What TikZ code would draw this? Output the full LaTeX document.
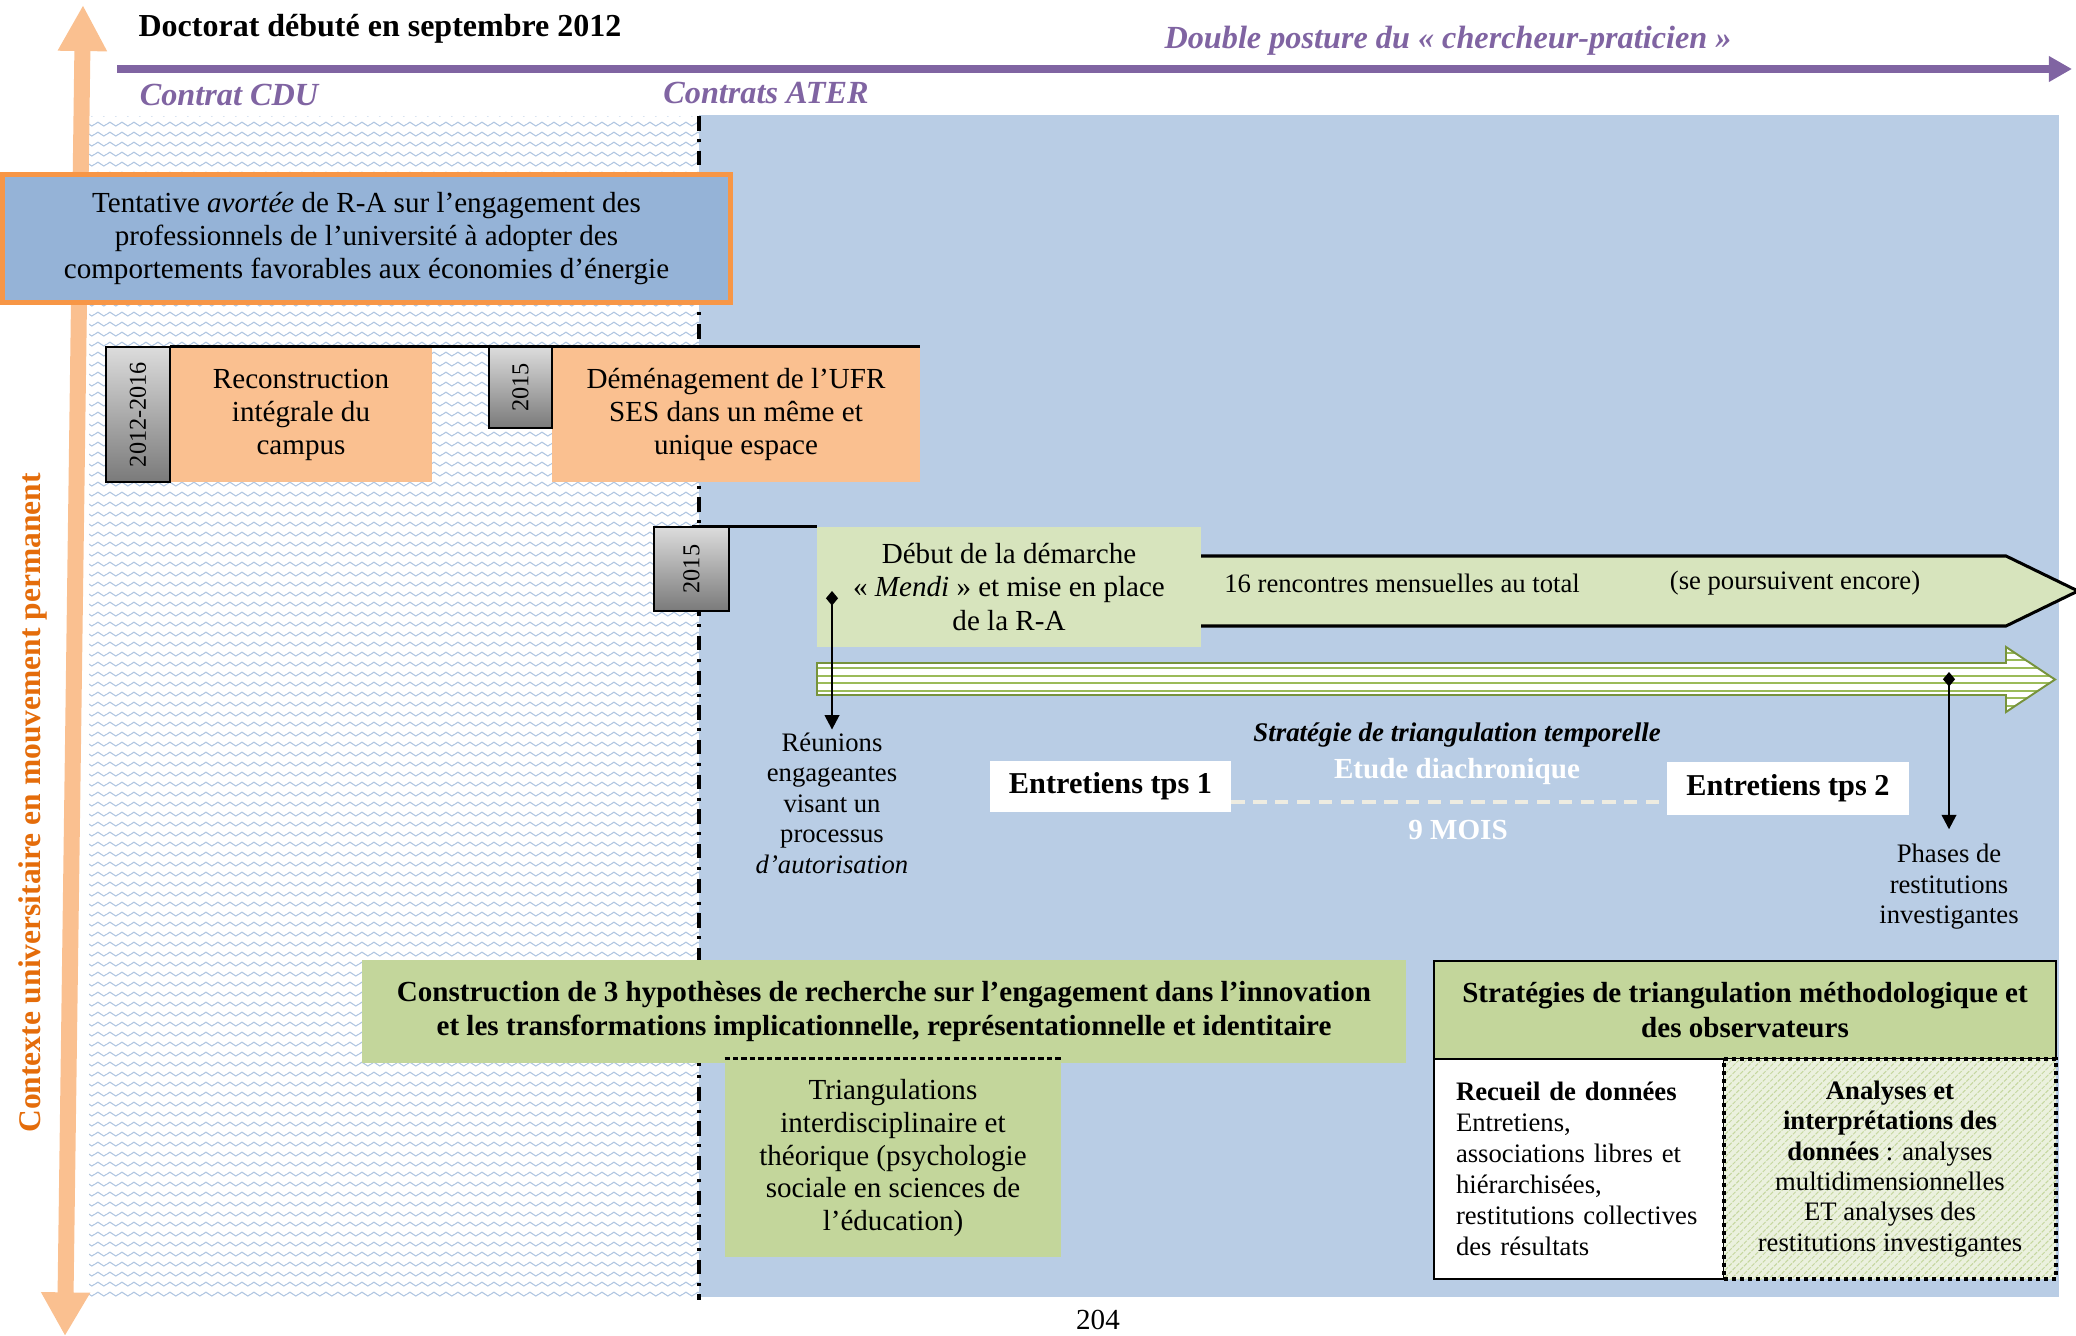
\documentclass[tikz,border=0pt]{standalone}
\usepackage{fontspec}
\setmainfont{Liberation Serif}
\usetikzlibrary{arrows.meta,patterns,patterns.meta}

\definecolor{panelblue}{HTML}{B9CDE5}
\definecolor{waveblue}{HTML}{B0C6E1}
\definecolor{tentblue}{HTML}{95B3D7}
\definecolor{boxorange}{HTML}{FAC090}
\definecolor{lineorange}{HTML}{F79646}
\definecolor{ctxorange}{HTML}{E46C0A}
\definecolor{postpurple}{HTML}{8064A2}
\definecolor{palegreen}{HTML}{D7E4BD}
\definecolor{midgreen}{HTML}{C3D69B}
\definecolor{stripegreen}{HTML}{9BBB59}
\definecolor{darkgreen}{HTML}{77933C}
\definecolor{hatchbg}{HTML}{EBF1DE}
\definecolor{hatchfg}{HTML}{C5D79F}
\definecolor{beige}{HTML}{EEECE1}
\definecolor{yearlight}{HTML}{DCDCDC}
\definecolor{yeardark}{HTML}{7A7A7A}

\newcommand{\fsz}[2]{\fontsize{#1}{#2}\selectfont}

\tikzdeclarepattern{
  name=wavy,
  type=uncolored,
  bounding box={(0pt,0pt) and (4.9pt,4.1pt)},
  tile size={(4.9pt,4.1pt)},
  code={
    \draw[line width=0.45pt] (0pt,1.2pt) -- (1.225pt,2pt) -- (2.45pt,1.2pt) -- (3.675pt,0.4pt) -- (4.9pt,1.2pt);
  }
}

\tikzset{
  sz/.style 2 args={minimum width=#1*0.145mm, minimum height=#2*0.145mm, inner sep=0pt},
  purpletext/.style={font=\bfseries\itshape\fsz{13.3}{15}, text=postpurple},
  orangebox/.style={fill=boxorange, align=center, font=\fsz{12}{13.6}},
  yearbox/.style={draw, line width=1.1pt, rotate=90, top color=yearlight, bottom color=yeardark, font=\fsz{10}{12}},
  greenbox/.style={fill=palegreen, align=center, font=\fsz{12}{14}},
  diamarrow/.style={line width=1pt, {Diamond[length=6pt,width=5pt]}-{Triangle[length=6pt,width=6pt]}},
  smalltext/.style={font=\fsz{11}{12.6}, align=center, inner sep=1pt}
}

\begin{document}
\begin{tikzpicture}[x=0.145mm,y=-0.145mm]
\useasboundingbox (0,0) rectangle (2076,1336);

\fill[panelblue] (699,115) rectangle (2059,1297);
\fill[pattern=wavy, pattern color=waveblue] (89,116) rectangle (699,1297);
\draw[line width=1.3pt, dash pattern=on 6pt off 3.5pt on 1.3pt off 3.5pt] (699,116) -- (699,1300);

\coordinate (ctop) at (83,5);
\coordinate (cbot) at (65,1336);
\draw[boxorange, line width=6.6pt, {Triangle[length=19pt,width=19pt]}-{Triangle[length=18pt,width=19pt]}] (ctop) -- (cbot);
\node[rotate=90, font=\bfseries\fsz{13}{15}, text=ctxorange] (ctx) at (33,803) {Contexte universitaire en mouvement permanent};

\coordinate (pleft) at (117,69);
\coordinate (pright) at (2072,69);
\draw[postpurple, line width=3.3pt, -{Triangle[length=9.5pt,width=10pt]}] (pleft) -- (pright);
\node[font=\bfseries\fsz{13.2}{15}] (doct) at (380,29) {Doctorat débuté en septembre 2012};
\node[purpletext] (posture) at (1448,41) {Double posture du « chercheur-praticien »};
\node[purpletext] (cdu) at (229,95) {Contrat CDU};
\node[purpletext] (ater) at (766,93) {Contrats ATER};

\node[draw=lineorange, line width=2.06pt, fill=tentblue, sz={728}{128}, align=center, font=\fsz{12}{13.6}] (tent) at (366.5,238.5) {Tentative \emph{avortée} de R-A sur l’engagement des\\ professionnels de l’université à adopter des\\ comportements favorables aux économies d’énergie};

\node[orangebox, sz={262}{135}] (recon) at (301,414.5) {Reconstruction\\ intégrale du\\ campus};
\node[orangebox, sz={368}{135}] (demen) at (736,414.5) {Déménagement de l’UFR\\ SES dans un même et\\ unique espace};
\node[yearbox, sz={135}{64}] (y1216) at (138,414.5) {2012-2016};
\node[yearbox, sz={81}{63}] (y15a) at (520.5,387.5) {2015};
\draw[line width=1pt] (recon.north west) -- (demen.north east);

\fill[palegreen] (1150,556) -- (2006,556) -- (2078,591) -- (2006,626) -- (1150,626) -- cycle;
\draw[line width=1.25pt] (1150,556) -- (2006,556) -- (2078,591) -- (2006,626) -- (1150,626);
\node[font=\fsz{11}{13}] (renc) at (1402,583) {16 rencontres mensuelles au total};
\node[font=\fsz{11}{13}] (encore) at (1795,583) {(se poursuivent encore)};

\node[greenbox, sz={384}{120}] (debut) at (1009,587) {Début de la démarche\\ « \emph{Mendi} » et mise en place\\ de la R-A};
\draw[line width=1pt] (debut.north west) -- (debut.north west -| 691.5,569);
\node[yearbox, sz={84}{75}] (y15b) at (691.5,569) {2015};

\begin{scope}
\clip (817,663) -- (2006,663) -- (2006,647) -- (2055,679.5) -- (2006,712) -- (2006,695) -- (817,695) -- cycle;
\fill[white] (817,640) rectangle (2060,715);
\foreach \k in {0,...,7}
  \draw[stripegreen, line width=0.9pt] (817,{652.8+7.6*\k}) -- (2060,{652.8+7.6*\k});
\end{scope}
\draw[darkgreen, line width=0.8pt] (817,663) -- (2006,663) -- (2006,647) -- (2055,679.5) -- (2006,712) -- (2006,695) -- (817,695) -- cycle;

\coordinate (dreu) at (832,591);
\node[smalltext] (reu) at (832,803) {Réunions\\ engageantes\\ visant un\\ processus\\ \emph{d’autorisation}};
\draw[diamarrow] (dreu) -- (reu.north);

\coordinate (dpha) at (1949,672);
\node[smalltext] (pha) at (1949,887) {Phases de\\ restitutions\\ investigantes};
\draw[diamarrow] (dpha) -- ([yshift=5pt]pha.north);

\node[font=\bfseries\itshape\fsz{11.1}{13}] (strat) at (1457,735) {Stratégie de triangulation temporelle};
\node[font=\bfseries\fsz{12}{14}, text=white] (etude) at (1457,771) {Etude diachronique};
\node[font=\bfseries\fsz{12}{14}, text=white] (mois) at (1458,830) {9 MOIS};

\node[fill=white, sz={241}{51}, font=\bfseries\fsz{12.5}{14}] (tps1) at (1110.5,786.5) {Entretiens tps 1};
\node[fill=white, sz={242}{53}, font=\bfseries\fsz{12.5}{14}] (tps2) at (1788,788.5) {Entretiens tps 2};
\coordinate (dl) at ([yshift=-6.4pt]tps1.east);
\draw[beige, line width=1.65pt, dash pattern=on 5.5pt off 3.5pt] (dl) -- (dl -| tps2.west);

\node[fill=midgreen, sz={1044}{103}, align=center, font=\bfseries\fsz{12}{14.4}] (constr) at (884,1011.5) {Construction de 3 hypothèses de recherche sur l’engagement dans l’innovation\\ et les transformations implicationnelle, représentationnelle et identitaire};
\node[fill=midgreen, sz={336}{198}, align=center, font=\fsz{12}{13.6}] (triang) at (893,1158) {Triangulations\\ interdisciplinaire et\\ théorique (psychologie\\ sociale en sciences de\\ l’éducation)};
\draw[line width=0.9pt, dash pattern=on 2.2pt off 1.3pt] (triang.north west) -- (triang.north east);

\node[draw, line width=1.1pt, fill=midgreen, sz={622}{98}, align=center, font=\bfseries\fsz{12}{14.2}] (stratm) at (1745,1010) {Stratégies de triangulation méthodologique et\\ des observateurs};
\node[draw, line width=1pt, fill=white, sz={290}{220}, text width=35.67mm, align=left, font=\fsz{11}{12.8}] (recueil) at (1579,1169) {\textbf{Recueil de données}\\ Entretiens,\\ associations libres et\\ hiérarchisées,\\ restitutions collectives\\ des résultats};
\node[draw, line width=1.65pt, dash pattern=on 1.65pt off 1.65pt, preaction={fill=hatchbg}, pattern={Lines[angle=45,distance=2.2pt,line width=0.4pt]}, pattern color=hatchfg, sz={332}{220}, align=center, font=\fsz{11}{12.5}] (analy) at (1890,1169) {\textbf{Analyses et}\\ \textbf{interprétations des}\\ \textbf{données} : analyses\\ multidimensionnelles\\ ET analyses des\\ restitutions investigantes};

\node[font=\fsz{12}{14}] (page) at (1098,1320) {204};

\end{tikzpicture}
\end{document}
